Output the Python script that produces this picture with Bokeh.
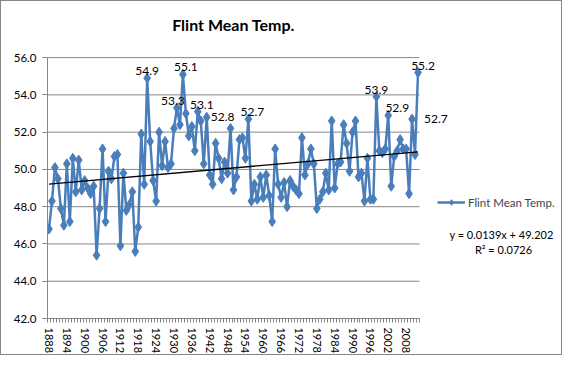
from bokeh.plotting import figure
from bokeh.models import (ColumnDataSource, Range1d, FixedTicker, Legend, LegendItem,
                          Label, NumeralTickFormatter)
from bokeh.core.properties import value
from bokeh.embed import file_html
from bokeh.resources import INLINE

# ---------------- data ----------------
years = list(range(1888, 2013))
temps = [
    46.8, 48.3, 50.1, 49.5, 47.9, 47.0, 50.3, 47.2, 50.6, 48.8,   # 1888-1897
    50.5, 48.9, 49.4, 49.0, 48.7, 49.1, 45.4, 47.9, 51.1, 47.2,   # 1898-1907
    49.9, 49.5, 50.7, 50.8, 45.9, 49.8, 47.8, 48.1, 48.8, 45.6,   # 1908-1917
    46.9, 51.9, 49.2, 54.9, 51.5, 49.4, 48.3, 52.0, 50.2, 51.5,   # 1918-1927
    50.1, 50.3, 52.2, 53.3, 52.4, 55.1, 53.0, 51.8, 52.3, 51.0,   # 1928-1937
    53.1, 52.6, 50.3, 52.8, 49.7, 49.2, 51.4, 50.6, 49.5, 50.4,   # 1938-1947
    49.8, 52.2, 48.9, 49.6, 51.6, 51.7, 50.6, 52.7, 48.3, 49.2,   # 1948-1957
    48.4, 49.6, 48.5, 49.7, 48.6, 47.2, 51.1, 49.2, 48.5, 49.3,   # 1958-1967
    48.0, 49.4, 49.1, 48.9, 48.7, 51.7, 49.7, 50.3, 51.1, 50.3,   # 1968-1977
    47.9, 48.4, 48.8, 49.8, 48.9, 52.6, 49.0, 50.3, 50.4, 52.4,   # 1978-1987
    51.4, 49.9, 52.0, 52.6, 49.6, 49.8, 48.3, 50.6, 48.4, 48.4,   # 1988-1997
    53.9, 51.0, 50.9, 51.1, 52.9, 49.1, 50.7, 51.0, 51.6, 51.1,   # 1998-2007
    51.1, 48.7, 52.7, 50.8, 55.2,                                 # 2008-2012
]
series_name = "Flint Mean Temp."
chart_title = "Flint Mean Temp."

# years whose values carry a data label (above the point / right of the point)
label_above_years = [1921, 1931, 1933, 1938, 1955, 1998, 2002, 2012]
label_right_years = [1941, 2010]

y_ticks = [42, 44, 46, 48, 50, 52, 54, 56]
x_label_years = list(range(1888, 2013, 6))

trend_slope = 0.0139
trend_intercept = 49.202
r_squared = 0.0726

# ---------------- layout / styles ----------------
BLUE = "#4A7EBB"
GRAY = "#868686"
FONT = "Lato"

W, H = 562, 355
FRAME_L = 46        # left edge of plot area (px)
PLOT_R = 418        # right end of the category axis (px)
PLOT_TOP = 57       # pixel row of the top gridline
FRAME_B = 322       # pixel row of the x axis

cat_lo = years[0] - 0.5
cat_hi = years[-1] + 0.5
px_per_year = (PLOT_R - FRAME_L) / (cat_hi - cat_lo)
x_end = cat_lo + (W - FRAME_L) / px_per_year
px_per_unit = (FRAME_B - PLOT_TOP) / (y_ticks[-1] - y_ticks[0])
y_end = y_ticks[-1] + PLOT_TOP / px_per_unit

p = figure(width=W, height=H, title=None,
           x_range=Range1d(cat_lo, x_end),
           y_range=Range1d(y_ticks[0], y_end),
           output_backend="svg", toolbar_location=None,
           min_border_left=FRAME_L, min_border_right=0,
           min_border_top=0, min_border_bottom=H - FRAME_B)
p.outline_line_color = None
p.background_fill_color = "white"
p.border_fill_color = "white"
p.styles = {"border": "1px solid " + GRAY}

# title (inside the canvas, screen units from frame bottom-left)
p.add_layout(Label(x=232 - FRAME_L, y=FRAME_B - 28, x_units="screen", y_units="screen",
                   text=chart_title, text_align="center", text_baseline="middle",
                   text_font=FONT, text_font_style="bold", text_font_size="16px",
                   text_color="black"))

# horizontal gridlines limited to the plot area
p.xgrid.visible = False
p.ygrid.visible = False
p.segment(x0=[cat_lo] * len(y_ticks), x1=[cat_hi] * len(y_ticks),
          y0=y_ticks, y1=y_ticks, line_color=GRAY, line_width=1)

# y axis
ya = p.yaxis[0]
ya.ticker = FixedTicker(ticks=y_ticks)
ya.bounds = (y_ticks[0], y_ticks[-1])
ya.formatter = NumeralTickFormatter(format="0.0")
ya.axis_line_color = GRAY
ya.major_tick_line_color = GRAY
ya.major_tick_out = 5
ya.major_tick_in = 0
ya.minor_tick_line_color = None
ya.major_label_text_font = FONT
ya.major_label_text_font_size = "11.5px"
ya.major_label_text_color = "black"
ya.major_label_standoff = 6

# x axis (category style: ticks between years, labels every 6 years)
xa = p.xaxis[0]
xa.ticker = FixedTicker(ticks=x_label_years,
                        minor_ticks=[y - 0.5 for y in years] + [cat_hi])
xa.bounds = (cat_lo, cat_hi)
xa.axis_line_color = GRAY
xa.major_tick_line_color = None
xa.minor_tick_line_color = GRAY
xa.minor_tick_out = 4
xa.minor_tick_in = 0
xa.major_label_orientation = "vertical"
xa.major_label_text_font = FONT
xa.major_label_text_font_size = "11px"
xa.major_label_text_color = "black"
xa.major_label_standoff = 3

# series
src = ColumnDataSource(dict(year=years, temp=temps))
line_r = p.line("year", "temp", source=src, line_color=BLUE, line_width=2.5)
mark_r = p.scatter("year", "temp", source=src, marker="diamond", size=10,
                   fill_color=BLUE, line_color=BLUE)

# linear trend line from the stated equation (x = 1..n)
n = len(years)
p.line([years[0], years[-1]],
       [trend_slope * 1 + trend_intercept, trend_slope * n + trend_intercept],
       line_color="black", line_width=1.3)

# data labels
above_dx = [0, -4, 3, 4, 4, 0, 9, 5]
ab_vals = [temps[years.index(y)] for y in label_above_years]
lab_src = ColumnDataSource(dict(x=label_above_years, y=ab_vals,
                                t=[f"{v:.1f}" for v in ab_vals], dx=above_dx))
p.text("x", "y", text="t", source=lab_src, x_offset="dx", y_offset=-3,
       text_align="center", text_baseline="bottom",
       text_font=value(FONT), text_font_size="12px", text_color="black")

right_dx = [4, 12]
rt_vals = [temps[years.index(y)] for y in label_right_years]
rlab_src = ColumnDataSource(dict(x=label_right_years, y=rt_vals,
                                 t=[f"{v:.1f}" for v in rt_vals], dx=right_dx))
p.text("x", "y", text="t", source=rlab_src, x_offset="dx", y_offset=0,
       text_align="left", text_baseline="middle",
       text_font=value(FONT), text_font_size="12px", text_color="black")

# legend (screen units from frame bottom-left)
legend = Legend(items=[LegendItem(label=series_name, renderers=[line_r, mark_r])],
                location=(436 - FRAME_L, FRAME_B - 206 - 7), padding=0, margin=0,
                spacing=0, glyph_width=28, glyph_height=14, label_height=14,
                label_standoff=3, border_line_color=None,
                background_fill_alpha=0,
                label_text_font=FONT, label_text_font_size="11.5px")
p.add_layout(legend)

# trendline equation
eq_txt = f"y = {trend_slope}x + {trend_intercept}"
r2_txt = f"R\u00b2 = {r_squared}"
p.add_layout(Label(x=500 - FRAME_L, y=FRAME_B - 238, x_units="screen", y_units="screen",
                   text=eq_txt, text_align="center", text_baseline="middle",
                   text_font=FONT, text_font_size="11px", text_color="black"))
p.add_layout(Label(x=502 - FRAME_L, y=FRAME_B - 253, x_units="screen", y_units="screen",
                   text=r2_txt, text_align="center", text_baseline="middle",
                   text_font=FONT, text_font_size="11px", text_color="black"))

open("out.html", "w").write(file_html(p, INLINE))
